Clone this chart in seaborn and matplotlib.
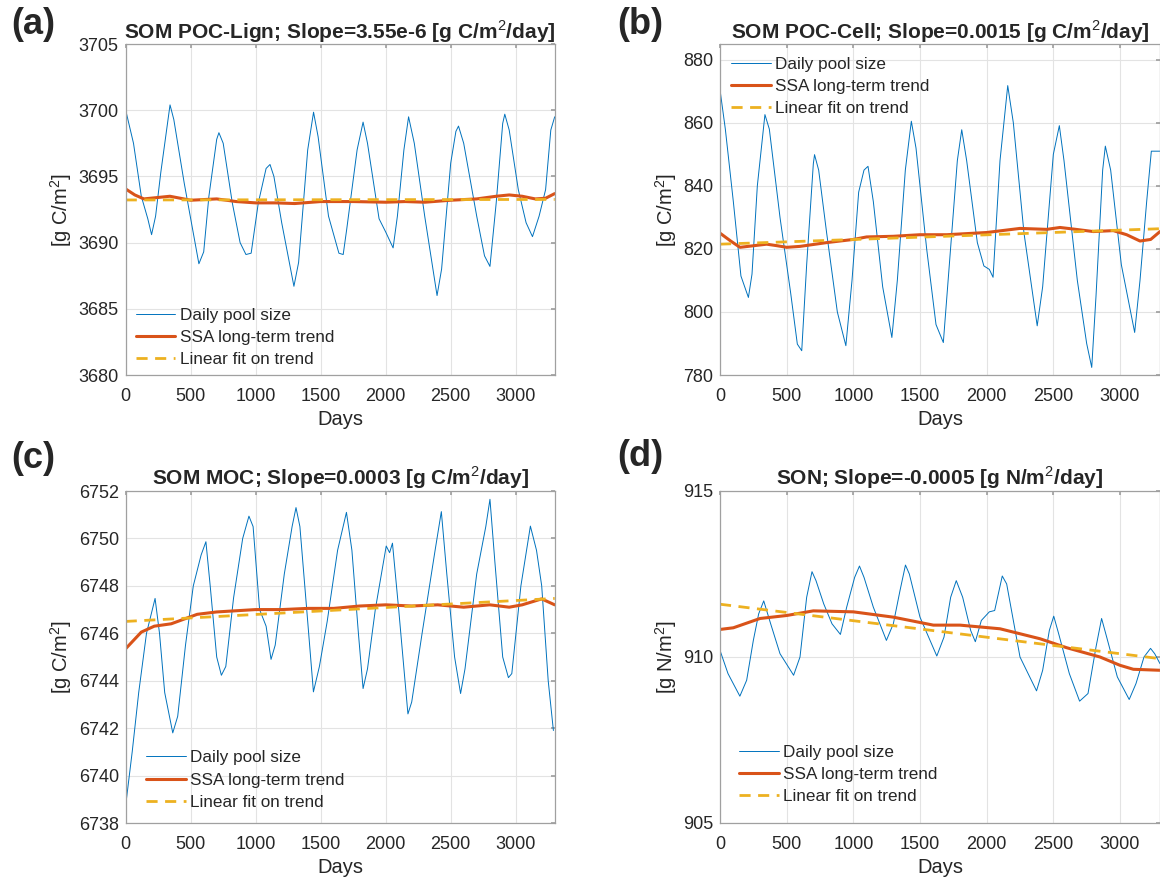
import numpy as np
import pandas as pd
import matplotlib
matplotlib.use("Agg")
import matplotlib.pyplot as plt
import seaborn as sns

# ---- data ----
a_days = [0, 60, 120, 170, 199, 230, 270, 341, 370, 450, 563, 600, 640, 700, 717, 750, 820, 880,
          925, 965, 1020, 1080, 1110, 1140, 1200, 1294, 1330, 1400, 1445, 1480, 1560, 1640, 1673,
          1700, 1780, 1826, 1860, 1949, 2000, 2057, 2090, 2140, 2176, 2220, 2300, 2395, 2430, 2500,
          2540, 2560, 2600, 2700, 2760, 2802, 2850, 2900, 2916, 2950, 3020, 3080, 3129, 3180, 3230,
          3270, 3300]
a_daily = [3700.0, 3697.5, 3693.5, 3691.8, 3690.6, 3692.0, 3695.3, 3700.4, 3699.3, 3694.5, 3688.4,
           3689.3, 3693.5, 3697.8, 3698.3, 3697.5, 3693.0, 3690.0, 3689.1, 3689.2, 3693.0, 3695.6,
           3695.9, 3695.0, 3691.5, 3686.7, 3688.5, 3697.0, 3699.85, 3698.0, 3692.0, 3689.2, 3689.1,
           3691.0, 3697.0, 3699.1, 3697.5, 3691.8, 3690.8, 3689.6, 3692.0, 3697.0, 3699.5, 3697.5,
           3692.0, 3686.0, 3688.0, 3696.0, 3698.4, 3698.8, 3697.5, 3692.0, 3689.0, 3688.2, 3693.0,
           3699.0, 3699.7, 3698.5, 3694.0, 3691.5, 3690.45, 3692.0, 3694.0, 3698.5, 3699.5]
a_trend_days = [0, 70, 140, 240, 340, 420, 500, 600, 700, 850, 1000, 1150, 1300, 1500, 1750, 2000,
                2150, 2300, 2500, 2700, 2850, 2950, 3050, 3150, 3230, 3300]
a_trend = [3694.05, 3693.6, 3693.3, 3693.4, 3693.5, 3693.35, 3693.2, 3693.25, 3693.3, 3693.1,
           3693.0, 3693.0, 3692.95, 3693.1, 3693.1, 3693.05, 3693.1, 3693.05, 3693.2, 3693.3,
           3693.5, 3693.6, 3693.5, 3693.3, 3693.35, 3693.7]
a_fit = [3693.22, 3693.26]

b_days = [0, 40, 100, 157, 213, 240, 280, 337, 370, 450, 530, 580, 613, 650, 700, 709, 740, 800,
          880, 944, 990, 1040, 1080, 1110, 1150, 1220, 1289, 1330, 1390, 1435, 1470, 1550, 1620,
          1675, 1720, 1780, 1813, 1850, 1930, 1979, 2020, 2048, 2100, 2158, 2200, 2280, 2379, 2420,
          2500, 2545, 2580, 2680, 2750, 2788, 2820, 2870, 2890, 2930, 3010, 3110, 3150, 3200, 3235,
          3300]
b_daily = [870.5, 858, 835, 811.4, 804.6, 812, 840, 862.6, 858, 830, 806, 789.8, 787.7, 815, 847,
           849.9, 845, 825, 800, 789.3, 810, 838, 845, 846.2, 835, 808, 791.9, 810, 845, 860.5, 852,
           820, 796, 790.3, 815, 848, 857.8, 848, 822, 814.6, 813.5, 811, 848, 871.8, 860, 825,
           795.6, 808, 850, 859.1, 848, 810, 790, 782.4, 805, 845, 852.6, 845, 815, 793.5, 810, 835,
           851, 851]
b_trend_days = [0, 80, 150, 250, 350, 430, 500, 600, 800, 1000, 1100, 1300, 1500, 1700, 2000,
                2250, 2450, 2550, 2650, 2800, 2950, 3050, 3150, 3230, 3300]
b_trend = [825.0, 822.5, 820.5, 821.0, 821.5, 821.0, 820.5, 820.8, 822.0, 823.0, 823.8, 824.0,
           824.5, 824.5, 825.2, 826.5, 826.2, 826.8, 826.3, 825.5, 825.8, 824.5, 822.5, 823.0, 825.5]
b_fit = [821.5, 826.4]

c_days = [0, 50, 100, 160, 226, 260, 300, 362, 400, 460, 520, 580, 617, 650, 700, 736, 770, 830,
          900, 948, 980, 1030, 1080, 1118, 1150, 1220, 1280, 1310, 1340, 1400, 1444, 1490, 1550,
          1630, 1698, 1740, 1790, 1826, 1860, 1920, 2004, 2030, 2052, 2100, 2171, 2200, 2280, 2380,
          2428, 2470, 2530, 2576, 2610, 2700, 2770, 2802, 2840, 2900, 2944, 2970, 3040, 3113, 3160,
          3200, 3250, 3290]
c_daily = [6738.75, 6741, 6743.5, 6746, 6747.47, 6746, 6743.5, 6741.8, 6742.5, 6745.5, 6748, 6749.3,
           6749.86, 6748, 6745, 6744.23, 6744.6, 6747.5, 6750, 6750.94, 6750.5, 6747, 6746.3,
           6744.9, 6745.5, 6748.5, 6750.5, 6751.3, 6750.5, 6746.5, 6743.53, 6744.6, 6746.5, 6749.5,
           6751.1, 6749.5, 6746, 6743.67, 6744.5, 6747, 6749.68, 6749.4, 6749.8, 6747, 6742.6,
           6743.1, 6746, 6749.5, 6751.13, 6748.5, 6745, 6743.46, 6744.5, 6748.5, 6750.5, 6751.65,
           6749, 6745, 6744.13, 6744.3, 6748, 6750.52, 6749.5, 6748, 6744, 6741.9]
c_trend_days = [0, 60, 120, 220, 350, 450, 550, 700, 1000, 1200, 1400, 1600, 1800, 2000, 2200,
                2400, 2600, 2800, 2950, 3050, 3200, 3300]
c_trend = [6745.35, 6745.7, 6746.05, 6746.3, 6746.4, 6746.6, 6746.8, 6746.9, 6747.0, 6747.0,
           6747.05, 6747.05, 6747.15, 6747.2, 6747.15, 6747.2, 6747.1, 6747.2, 6747.1, 6747.2,
           6747.45, 6747.2]
c_fit = [6746.5, 6747.47]

d_days = [0, 60, 149, 200, 250, 290, 328, 380, 450, 552, 600, 650, 690, 720, 778, 840, 903, 950,
          1010, 1046, 1080, 1150, 1248, 1300, 1350, 1391, 1420, 1500, 1626, 1680, 1730, 1772, 1820,
          1880, 1915, 1960, 2020, 2060, 2117, 2150, 2250, 2374, 2420, 2470, 2503, 2540, 2620, 2697,
          2760, 2820, 2862, 2900, 2980, 3069, 3120, 3180, 3229, 3260, 3300]
d_daily = [910.2, 909.5, 908.82, 909.3, 910.5, 911.3, 911.69, 911.0, 910.1, 909.45, 910.0, 911.8,
           912.57, 912.3, 911.6, 911.0, 910.68, 911.5, 912.4, 912.74, 912.4, 911.5, 910.5, 911.0,
           912.0, 912.77, 912.5, 911.2, 910.03, 910.6, 911.8, 912.3, 911.8, 910.8, 910.46, 911.1,
           911.36, 911.4, 912.44, 912.2, 910.0, 908.98, 909.6, 910.8, 911.23, 910.7, 909.5, 908.67,
           908.9, 910.3, 911.16, 910.6, 909.4, 908.72, 909.2, 910.0, 910.26, 910.1, 909.8]
d_trend_days = [0, 100, 300, 500, 700, 1000, 1300, 1600, 1800, 2100, 2400, 2600, 2850, 3000, 3100,
                3300]
d_trend = [910.83, 910.88, 911.16, 911.25, 911.39, 911.36, 911.2, 910.96, 910.96, 910.85, 910.55,
           910.28, 910.0, 909.75, 909.63, 909.6]
d_fit = [911.59, 909.95]

fit_days = [0, 3300]

titles = ["SOM POC-Lign; Slope=3.55e-6 [g C/m$^2$/day]",
          "SOM POC-Cell; Slope=0.0015 [g C/m$^2$/day]",
          "SOM MOC; Slope=0.0003 [g C/m$^2$/day]",
          "SON; Slope=-0.0005 [g N/m$^2$/day]"]
ylabels = ["[g C/m$^2$]", "[g C/m$^2$]", "[g C/m$^2$]", "[g N/m$^2$]"]
letters = ["(a)", "(b)", "(c)", "(d)"]
ylims = [(3680, 3705), (780, 885), (6738, 6752), (905, 915)]
yticks = [np.arange(3680, 3706, 5), np.arange(780, 881, 20),
          np.arange(6738, 6753, 2), [905, 910, 915]]

BLUE = "#0072BD"
RED = "#D95319"
YELLOW = "#EDB120"

sns.set_theme(style="whitegrid")
plt.rcParams["font.family"] = ["Liberation Sans", "DejaVu Sans"]
plt.rcParams["mathtext.fontset"] = "custom"
plt.rcParams["mathtext.rm"] = "Liberation Sans"
plt.rcParams["mathtext.bf"] = "Liberation Sans:bold"

fig = plt.figure(figsize=(11.6, 8.81), dpi=100)
W, H = 1160, 881
# axes boxes in pixels: left, top, right, bottom
boxes = [(125.7, 44, 554.7, 375), (720, 44, 1160, 375),
         (125.7, 491, 554.7, 823), (720, 491, 1160, 823)]
# legend anchor (axes fraction) and loc
legends = [((0.024, 0.024), "lower left"), ((0.026, 0.962), "upper left"),
           ((0.048, 0.04), "lower left"), ((0.044, 0.057), "lower left")]
letter_pos = [(33, 25), (640, 25), (33, 458), (640, 457)]
title_pads = [3.5, 3.5, 4.5, 4.5]

panels = [(a_days, a_daily, a_trend_days, a_trend, a_fit),
          (b_days, b_daily, b_trend_days, b_trend, b_fit),
          (c_days, c_daily, c_trend_days, c_trend, c_fit),
          (d_days, d_daily, d_trend_days, d_trend, d_fit)]

for i, (days, daily, tdays, trend, fit) in enumerate(panels):
    l, t, r, b = boxes[i]
    ax = fig.add_axes([l / W, 1 - b / H, (r - l) / W, (b - t) / H])
    ax.set_facecolor("white")

    sns.lineplot(x=days, y=daily, ax=ax, color=BLUE, linewidth=0.7, label="Daily pool size")
    sns.lineplot(x=tdays, y=trend, ax=ax, color=RED, linewidth=2.2, label="SSA long-term trend")
    sns.lineplot(x=fit_days, y=fit, ax=ax, color=YELLOW, linewidth=2.0, linestyle=(0, (4, 2.7)),
                 label="Linear fit on trend")

    ax.set_xlim(0, 3300)
    ax.set_ylim(*ylims[i])
    ax.set_xticks([0, 500, 1000, 1500, 2000, 2500, 3000])
    ax.set_yticks(yticks[i])
    ax.grid(True, color="#e3e3e3", linewidth=0.8)
    for sp in ax.spines.values():
        sp.set_color("#a0a0a0")
        sp.set_linewidth(0.9)
    ax.tick_params(axis="both", direction="in", length=3, color="#a0a0a0",
                   labelsize=13, labelcolor="#262626", top=True, right=True)
    ax.tick_params(axis="x", pad=9.5)
    ax.tick_params(axis="y", pad=5)
    ax.set_xlabel("Days", fontsize=14.5, color="#262626", labelpad=3.5)
    ax.set_ylabel(ylabels[i], fontsize=14.5, color="#262626", labelpad=3)
    ax.set_title(titles[i], fontsize=15, fontweight="bold", pad=title_pads[i])

    anchor, loc = legends[i]
    ax.legend(loc=loc, bbox_to_anchor=anchor, frameon=False, fontsize=12.3,
              handlelength=2.3, handletextpad=0.25, labelspacing=0.42, borderpad=0,
              borderaxespad=0)

    fig.text(letter_pos[i][0] / W, 1 - letter_pos[i][1] / H, letters[i], fontsize=26,
             fontweight="bold", ha="center", va="center")

fig.savefig("out.png", dpi=100)
